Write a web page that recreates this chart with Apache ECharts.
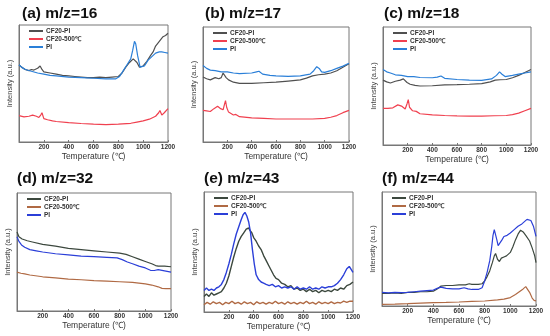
<!DOCTYPE html>
<html><head><meta charset="utf-8">
<script src="https://cdn.jsdelivr.net/npm/echarts@6/dist/echarts.min.js"></script>
<style>html,body{margin:0;padding:0;background:#fff}#c{width:550px;height:336px}</style>
</head><body><div id="c"></div>
<script>
// ---- data ----
var panelTitles = ['(a) m/z=16','(b) m/z=17','(c) m/z=18','(d) m/z=32','(e) m/z=43','(f) m/z=44'];
var seriesNames = ['CF20-PI','CF20-500\u2103','PI'];
var xTicks = [200,400,600,800,1000,1200];

var a_cf20pi = [[0,66],[20,64],[50,62],[80,61],[100,62],[120,61.5],[150,63],[170,65],[185,62],[200,60],[250,59],[300,58],[350,57],[400,56.5],[450,56],[500,55.5],[550,55],[600,55],[650,55.5],[700,55],[750,55.5],[800,56],[830,59],[860,64],[890,68],[920,71],[935,72],[950,68],[970,64],[1000,65],[1030,69],[1060,74],[1080,77],[1100,82],[1130,86],[1160,90],[1180,91],[1200,93]];
var a_cf20500 = [[0,22.5],[40,21.5],[80,22],[110,23],[140,22],[160,21],[175,23],[185,25],[200,20],[230,19],[270,18],[300,17.5],[400,16.5],[500,15.8],[600,15.2],[700,14.8],[800,15.3],[900,16],[950,17],[1000,18],[1050,19.5],[1100,22],[1125,25],[1135,27],[1150,23],[1170,25],[1200,28.5]];
var a_pi = [[0,66],[20,64],[50,62],[100,60.5],[150,59],[200,58],[250,57],[300,56.5],[400,55.5],[500,55],[600,54.5],[700,54],[780,54],[810,56],[840,61],[870,66],[900,71],[915,78],[930,86],[940,84],[955,74],[975,64],[990,63],[1010,65],[1040,70],[1070,73],[1100,76],[1130,77],[1150,77],[1175,76.5],[1200,76]];

var b_cf20pi = [[0,56.5],[30,55],[60,54],[100,56],[130,55],[150,56],[165,60],[175,61],[190,56],[210,54],[250,52],[300,51],[400,51],[500,51.5],[600,52],[700,53],[800,54],[850,55.5],[900,57.5],[950,58.5],[1000,59],[1050,60],[1100,62],[1150,65],[1200,68]];
var b_cf20500 = [[0,27.5],[30,27],[60,26.5],[90,29],[120,31],[145,29],[165,28],[175,32],[185,36],[195,30],[210,26],[250,23.5],[270,24],[300,22],[400,21],[500,20.5],[600,20],[700,20],[800,20],[900,20],[1000,20.5],[1050,21.5],[1100,23],[1150,25.5],[1200,27.5]];
var b_pi = [[0,66.5],[30,64],[60,62.5],[100,62],[150,61],[200,61],[250,60],[300,59.5],[400,60],[440,61],[460,61.5],[490,59],[550,58],[600,57.5],[700,57],[800,57.5],[880,59],[910,62],[935,65.5],[955,64],[975,61],[1000,60.5],[1050,62],[1100,64],[1150,66],[1200,68.5]];

var c_cf20pi = [[0,55],[30,53.5],[60,52.5],[100,54],[140,55],[165,56],[180,57.5],[195,53],[220,51.5],[260,50.5],[300,50],[400,50.2],[500,51],[600,51.2],[700,51.5],[800,52],[870,53.5],[910,55],[950,55.3],[1000,55.5],[1050,57],[1100,59],[1150,61.5],[1200,64]];
var c_cf20500 = [[0,31],[40,31],[80,31.5],[120,34],[150,33],[180,30.5],[195,35],[205,38.5],[215,32],[240,29],[270,28.5],[300,26.5],[400,25.5],[500,25],[600,24.7],[700,24.5],[800,24.5],[900,24.8],[1000,25],[1050,25.8],[1100,27],[1150,29],[1200,31]];
var c_pi = [[0,64],[30,62],[60,61],[100,59.5],[150,59],[200,58],[250,58],[300,57.2],[400,57],[440,57.5],[470,58.5],[500,56.5],[600,55.5],[700,55],[800,54.8],[880,56],[920,59],[945,62],[965,60],[990,58],[1050,59],[1100,60],[1150,61],[1200,62]];

var d_cf20pi = [[0,67],[15,63],[40,61],[80,59.5],[120,58.5],[200,56.5],[300,55],[400,53],[500,52],[600,51],[700,50],[800,49],[850,48],[900,46],[950,44],[1000,42],[1050,40],[1080,38.5],[1100,38],[1150,38],[1200,37.5]];
var d_cf20500 = [[0,33],[30,32],[60,31.5],[100,30.5],[200,29],[300,28],[400,27],[500,26.5],[600,25.8],[700,25.3],[800,24.8],[900,24.2],[1000,23],[1050,22],[1100,20.5],[1130,19.2],[1160,19],[1200,19]];
var d_pi = [[0,63],[15,59],[35,56],[60,54],[100,52],[150,51],[200,50],[300,48.5],[400,47.5],[500,46.5],[600,46],[700,45.5],[780,45],[820,43.5],[860,41.5],[900,40],[950,38],[1000,36.5],[1040,34.5],[1070,34.3],[1100,35],[1150,34],[1200,33]];

var e_cf20pi = [[0,13],[20,15],[40,13],[60,16],[80,14],[100,15],[120,16],[140,17],[160,20],[180,24],[200,30],[220,38],[240,46],[260,53],[280,59],[300,63],[320,66],[340,69],[360,70],[370,68],[385,66],[400,62],[420,59],[440,55],[460,52],[480,47],[500,43],[520,39],[540,35],[560,31],[580,28],[600,27],[625,24],[650,23],[675,21],[700,22],[725,19],[750,20],[775,18],[800,19],[825,17],[850,19],[875,17],[900,18],[925,16],[950,18],[975,17],[1000,18],[1025,17],[1050,19],[1075,18],[1100,20],[1125,19],[1150,22],[1175,23],[1200,25]];
var e_cf20500 = [[0,6],[25,8],[50,6.5],[75,8.5],[100,7],[125,8],[150,6],[175,8],[200,7],[225,9],[250,7],[275,8],[300,6.5],[325,8.5],[350,7],[375,8],[400,6],[425,8.5],[450,7],[475,8],[500,6.5],[525,8],[550,7],[575,9],[600,7],[625,8],[650,6.5],[675,8.5],[700,7],[725,8],[750,6.5],[775,8],[800,7],[825,9],[850,7],[875,8],[900,6.5],[925,8.5],[950,7],[975,8],[1000,7],[1025,8.5],[1050,7],[1075,8],[1100,7.5],[1125,9],[1150,8],[1175,9],[1200,9]];
var e_pi = [[0,18],[20,20],[40,18],[60,19],[80,18],[100,20],[120,21],[140,23],[160,27],[180,33],[200,40],[220,48],[240,57],[260,65],[280,71],[300,77],[315,81],[330,83],[345,80],[360,75],[375,66],[390,52],[405,40],[420,31],[440,27],[460,25],[480,24],[500,23],[525,22],[550,23],[575,21],[600,22],[625,20],[650,21],[675,20],[700,21],[725,19],[750,21],[775,19],[800,20],[825,19],[850,21],[875,19],[900,20],[925,19],[950,21],[975,20],[1000,21],[1025,21],[1050,22],[1075,24],[1100,27],[1125,31],[1150,36],[1170,38],[1185,37],[1200,33]];

var f_cf20pi = [[0,11],[50,11],[100,11.5],[150,11],[200,12],[250,12],[300,12.5],[350,12.5],[400,13],[430,15],[460,17.5],[500,18],[550,18],[600,18.5],[650,18.5],[680,19.5],[700,19],[750,19],[780,19.5],[800,22],[820,26],[840,31],[860,38],[875,44],[885,46],[900,41],[915,39],[930,42],[950,43],[970,44],[1000,47],[1020,52],[1040,58],[1060,63],[1080,66.5],[1100,65],[1120,62],[1150,57],[1170,51],[1190,44],[1200,38]];
var f_cf20500 = [[0,1.5],[100,1.7],[200,2],[300,2.5],[400,3],[500,3.2],[600,3.5],[700,4],[800,4.4],[900,5.3],[950,6],[1000,7.4],[1040,10],[1070,12.5],[1100,15],[1120,17],[1135,18],[1150,12],[1170,7],[1185,5],[1200,4.5]];
var f_pi = [[0,12],[50,11.5],[100,12],[150,11.8],[200,12],[250,12.5],[300,13],[350,13.5],[400,14],[430,15.5],[460,16.5],[500,15.5],[550,15],[600,15],[640,16],[670,15],[700,14.5],[750,14.5],[780,16],[800,22],[820,30],[840,40],[855,52],[865,62],[875,67],[885,66],[895,58],[905,53],[920,53],[935,58],[950,61],[975,62],[1000,64],[1030,67],[1060,70],[1090,72],[1110,74],[1130,76],[1145,77.5],[1160,75],[1180,70],[1200,61]];

var panelData = [
  [a_cf20pi, a_cf20500, a_pi],
  [b_cf20pi, b_cf20500, b_pi],
  [c_cf20pi, c_cf20500, c_pi],
  [d_cf20pi, d_cf20500, d_pi],
  [e_cf20pi, e_cf20500, e_pi],
  [f_cf20pi, f_cf20500, f_pi]
];

// ---- layout / style ----
var grids = [
  {left:19, top:25, width:149, height:117},
  {left:203, top:27, width:146, height:115},
  {left:383, top:27, width:148, height:118},
  {left:17, top:193, width:154, height:118},
  {left:204, top:192, width:149, height:120},
  {left:382, top:192, width:154, height:114}
];
var titlePos = [[22,6],[205,6],[384,6],[17,171],[204,171],[382,171]];
var topColors = ['#505050','#f0404f','#2a7fd8'];
var botColors = ['#3c483e','#b06a44','#2b3fd8'];
var FONT = 'Liberation Sans, Arial, sans-serif';

var option = {animation:false, title:[], grid:[], xAxis:[], yAxis:[], legend:[], series:[]};
for (var p = 0; p < 6; p++) {
  var g = grids[p];
  option.grid.push({left:g.left, top:g.top, width:g.width, height:g.height, show:true, borderColor:'#777', borderWidth:1, backgroundColor:'transparent'});
  option.title.push({text:panelTitles[p], left:titlePos[p][0], top:titlePos[p][1], padding:0,
    textStyle:{fontSize:15.5, fontWeight:'bold', color:'#111', fontFamily:FONT}});
  option.xAxis.push({type:'value', gridIndex:p, min:0, max:1200, interval:200,
    name:'Temperature (\u2103)', nameLocation:'middle', nameGap:10,
    nameTextStyle:{fontSize:8.5, color:'#333', fontFamily:FONT},
    axisLine:{show:true, lineStyle:{color:'#777'}},
    axisTick:{show:true, inside:true, length:2, lineStyle:{color:'#777'}},
    splitLine:{show:false},
    axisLabel:{fontSize:6.5, color:'#333', margin:2, fontWeight:'bold', fontFamily:FONT, showMinLabel:false,
      formatter:function(v){return v===0?'':String(v);}}});
  option.yAxis.push({type:'value', gridIndex:p, min:0, max:100,
    name:'Intensity (a.u.)', nameLocation:'middle', nameGap:5,
    nameTextStyle:{fontSize:7.5, color:'#444', fontFamily:FONT},
    axisLine:{show:true, lineStyle:{color:'#777'}}, axisTick:{show:false},
    axisLabel:{show:false}, splitLine:{show:false}});
  var cols = p < 3 ? topColors : botColors;
  var lw = (p === 4) ? 1.4 : 1.2;
  for (var s = 0; s < 3; s++) {
    var nm = seriesNames[s];
    option.series.push({type:'line', name:nm, xAxisIndex:p, yAxisIndex:p, data:panelData[p][s],
      symbol:'none', smooth:false, lineStyle:{width:lw, color:cols[s]}, itemStyle:{color:cols[s]}, z: s===2?3:2});
  }
  option.legend.push({
    data: seriesNames.map(function(n, i){return {name:n, itemStyle:{color:cols[i]}};}),
    orient:'vertical', left:g.left+10, top:g.top+2, itemGap:0, itemWidth:14, itemHeight:2, icon:'rect',
    selectedMode:false,
    textStyle:{fontSize:6.5, fontWeight:'bold', color:'#333', fontFamily:FONT, lineHeight:8, padding:[0,0,0,-2]},
    padding:0
  });
}
var chart = echarts.init(document.getElementById('c'), null, {renderer:'canvas'});
chart.setOption(option);
</script></body></html>
